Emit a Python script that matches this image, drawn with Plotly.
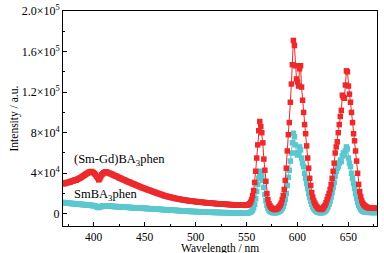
import plotly.graph_objects as go

wavelength = list(range(370, 679))

red_sm_gd = [
    30000, 29500, 30500, 30200, 31000, 30800, 31500, 31200, 32000, 32500,
    32300, 33000, 33500, 33200, 34000, 34500, 35000, 35500, 36200, 36800,
    37500, 38200, 38800, 39500, 40000, 40800, 41200, 41500, 41800, 41000,
    40500, 39500, 38500, 37000, 35500, 33500, 34500, 36500, 38500, 39500,
    40500, 41000, 41500, 41200, 40500, 40300, 39800, 39500, 39000, 38500,
    38000, 37500, 37200, 36800, 36200, 35600, 35200, 34800, 34200, 33800,
    33500, 33000, 32400, 32000, 31600, 31300, 30800, 30300, 29800, 29500,
    29200, 28600, 28200, 27800, 27300, 27000, 26500, 26000, 25800, 25300,
    25000, 24600, 24200, 23800, 23500, 23200, 22800, 22300, 22000, 21600,
    21300, 20900, 20500, 20200, 19800, 19500, 19200, 18800, 18500, 18000,
    17800, 17500, 17200, 17000, 16700, 16500, 16200, 16000, 15800, 15500,
    15300, 15000, 14900, 14700, 14500, 14300, 14100, 13900, 13800, 13600,
    13500, 13300, 13100, 13000, 12800, 12700, 12600, 12400, 12300, 12200,
    12100, 12000, 11800, 11700, 11600, 11500, 11400, 11300, 11200, 11100,
    11000, 10900, 10800, 10700, 10600, 10500, 10400, 10300, 10300, 10200,
    10100, 10000, 9900, 9900, 9800, 9700, 9600, 9600, 9500, 9400,
    9400, 9300, 9200, 9200, 9100, 9000, 9000, 8900, 8900, 8800,
    8800, 8700, 8700, 8600, 8600, 8500, 8500, 8500, 8400, 8400,
    8500, 8800, 9200, 10000, 11500, 14000, 18000, 23000, 31000, 42000,
    55000, 68000, 82000, 91000, 86000, 80000, 70000, 54000, 43000, 32000,
    20000, 14000, 10000, 8000, 6500, 5500, 4800, 4300, 4200, 4500,
    5000, 5800, 7000, 8500, 10500, 14000, 18000, 24000, 33000, 45000,
    62000, 78000, 90000, 110000, 128000, 147000, 171000, 166000, 146000, 133000,
    130000, 126000, 143000, 146000, 125000, 112000, 100000, 88000, 79000, 67000,
    55000, 45000, 35000, 28000, 21000, 16500, 13000, 10500, 8500, 7000,
    5800, 5000, 4500, 4300, 4500, 5500, 7000, 8500, 11000, 14000,
    17000, 20000, 24000, 29000, 35000, 42000, 50000, 60000, 66000, 71000,
    80000, 88000, 96000, 102000, 117000, 115000, 114000, 127000, 141000, 140000,
    126000, 118000, 110000, 100000, 90000, 79000, 72000, 62000, 52000, 40000,
    29000, 22000, 17000, 13000, 10500, 9000, 8000, 7200, 6600, 6200,
    5800, 5600, 5500, 5500, 5600, 5500, 5400, 5500, 5600,
]

cyan_sm = [
    11000, 10800, 11200, 10700, 10500, 10800, 10300, 10500, 10200, 10000,
    10200, 9800, 10000, 9700, 9500, 9800, 9400, 9200, 9500, 9100,
    9000, 9200, 8800, 8700, 8900, 8500, 8600, 8400, 8300, 8200,
    8000, 7800, 7500, 7000, 6500, 6200, 6500, 7000, 7500, 7800,
    8000, 7900, 7800, 7700, 7600, 7700, 7500, 7400, 7500, 7300,
    7200, 7300, 7100, 7000, 7100, 6900, 6800, 6900, 6700, 6600,
    6700, 6500, 6600, 6400, 6300, 6400, 6200, 6100, 6200, 6000,
    6000, 5900, 5800, 5900, 5700, 5600, 5700, 5500, 5400, 5500,
    5400, 5300, 5200, 5300, 5100, 5000, 5100, 4900, 4800, 4900,
    4700, 4600, 4700, 4500, 4400, 4500, 4300, 4200, 4300, 4100,
    4000, 4100, 3900, 3800, 3900, 3700, 3600, 3700, 3500, 3400,
    3500, 3300, 3200, 3300, 3100, 3000, 3100, 2900, 2800, 2900,
    2700, 2600, 2700, 2500, 2400, 2500, 2300, 2400, 2200, 2300,
    2200, 2100, 2200, 2000, 2100, 1900, 2000, 1800, 1900, 1700,
    1800, 1700, 1600, 1700, 1500, 1600, 1500, 1400, 1500, 1400,
    1400, 1300, 1400, 1300, 1200, 1300, 1200, 1200, 1100, 1200,
    1100, 1100, 1000, 1100, 1000, 1000, 900, 1000, 900, 900,
    900, 850, 900, 800, 850, 800, 800, 850, 800, 800,
    800, 900, 1000, 1300, 1800, 2500, 3800, 6000, 9500, 15000,
    22000, 29000, 35000, 40000, 42000, 38000, 33000, 26000, 19000, 13000,
    8500, 5500, 3500, 2500, 1800, 1400, 1200, 1100, 1100, 1200,
    1400, 1800, 2300, 3000, 4000, 5500, 7500, 10500, 14500, 20000,
    28000, 36000, 43000, 52000, 60000, 70000, 79500, 76000, 68000, 60000,
    58000, 60000, 66000, 63000, 55000, 50000, 46500, 40000, 35000, 30000,
    25000, 20000, 16000, 12500, 9500, 7000, 5200, 3800, 2800, 2100,
    1600, 1300, 1100, 1000, 1100, 1300, 1800, 2500, 3500, 5000,
    7000, 9500, 12500, 16500, 21000, 26000, 31000, 37000, 42000, 45000,
    46500, 50000, 53000, 51500, 57000, 60000, 58000, 62000, 66000, 64000,
    55000, 50000, 46500, 40000, 35000, 30000, 25000, 20000, 15500, 11500,
    8500, 6200, 4500, 3400, 2700, 2200, 1900, 1700, 1600, 1500,
    1500, 1400, 1400, 1400, 1300, 1400, 1300, 1300, 1400,
]

y_tickvals = [0, 40000, 80000, 120000, 160000, 200000]
y_ticktext = ["0", "4×10<sup>4</sup>", "8×10<sup>4</sup>", "1.2×10<sup>5</sup>",
              "1.6×10<sup>5</sup>", "2.0×10<sup>5</sup>"]
x_tickvals = [400, 450, 500, 550, 600, 650]

label_red = "(Sm-Gd)BA<sub>3</sub>phen"
label_cyan = "SmBA<sub>3</sub>phen"
x_title = "Wavelength / nm"
y_title = "Intensity / a.u."

RED = "#EC2A2C"
CYAN = "#5CC7CF"
FONT = "Liberation Serif"

fig = go.Figure()
fig.add_trace(go.Scatter(
    x=wavelength, y=cyan_sm, mode="lines+markers", name=label_cyan,
    line=dict(color=CYAN, width=1),
    marker=dict(symbol="square", size=5.5, color=CYAN),
))
fig.add_trace(go.Scatter(
    x=wavelength, y=red_sm_gd, mode="lines+markers", name=label_red,
    line=dict(color=RED, width=1),
    marker=dict(symbol="square", size=5.5, color=RED),
))

fig.add_annotation(x=379, y=53000, text=label_red, showarrow=False,
                   xanchor="left", yanchor="middle",
                   font=dict(family=FONT, size=12.5, color="black"))
fig.add_annotation(x=379, y=19000, text=label_cyan, showarrow=False,
                   xanchor="left", yanchor="middle",
                   font=dict(family=FONT, size=12.5, color="black"))

# axis titles placed as annotations in paper coordinates
fig.add_annotation(xref="paper", yref="paper", x=0.5, y=0, yshift=-14,
                   text=x_title, showarrow=False, xanchor="center", yanchor="top",
                   font=dict(family=FONT, size=11.5, color="black"))
fig.add_annotation(xref="paper", yref="paper", x=0, xshift=-49, y=0.5,
                   text=y_title, showarrow=False, textangle=-90,
                   xanchor="center", yanchor="middle",
                   font=dict(family=FONT, size=11.5, color="black"))

fig.update_layout(
    width=384, height=253,
    margin=dict(l=63, r=7, t=11, b=27),
    paper_bgcolor="white", plot_bgcolor="white",
    showlegend=False,
    font=dict(family=FONT, size=12, color="black"),
)
fig.update_xaxes(
    range=[370, 678], tickvals=x_tickvals, automargin=False,
    ticks="inside", ticklen=4, tickwidth=1, tickcolor="black",
    minor=dict(dtick=25, tick0=375, ticks="inside", ticklen=2, tickcolor="black"),
    showline=True, linecolor="black", linewidth=1, mirror=True,
    showgrid=False, zeroline=False,
    tickfont=dict(family=FONT, size=11.5),
)
fig.update_yaxes(
    range=[-12000, 200000], tickvals=y_tickvals, ticktext=y_ticktext,
    automargin=False,
    ticks="inside", ticklen=4, tickwidth=1, tickcolor="black",
    minor=dict(dtick=20000, tick0=0, ticks="inside", ticklen=2, tickcolor="black"),
    showline=True, linecolor="black", linewidth=1, mirror=True,
    showgrid=False, zeroline=False,
    tickfont=dict(family=FONT, size=12),
)

fig.write_html("out.html",
               config={"displayModeBar": False},
               post_script="document.body.style.margin='0';document.body.style.overflow='hidden';")
